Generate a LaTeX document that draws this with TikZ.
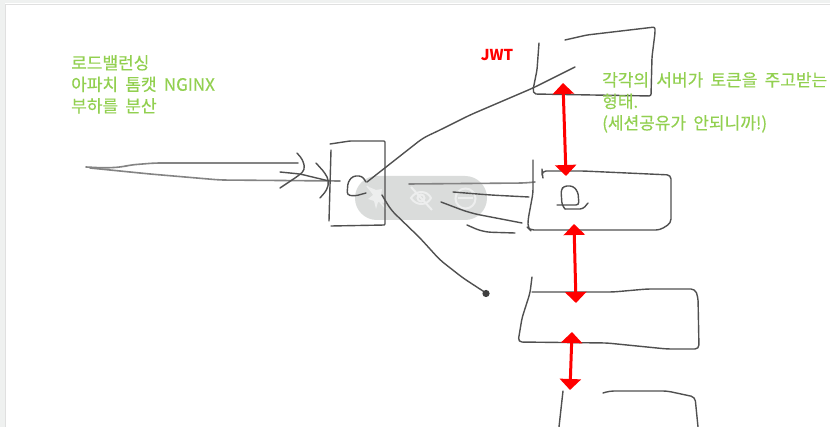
\documentclass[tikz,border=0pt]{standalone}
\usepackage{fontspec}
\newfontfamily\kr[WordSpace=1.9,FakeBold=0.4]{Noto Sans CJK KR}
\newfontfamily\krb{Noto Sans CJK KR}
\usetikzlibrary{arrows.meta}
\definecolor{note}{HTML}{92D050}
\definecolor{ink}{HTML}{505050}
\definecolor{pill}{HTML}{DADCDB}
\definecolor{band}{HTML}{EFF1F0}
\definecolor{icon}{HTML}{EDEEEE}
\tikzset{
  pen/.style={draw=ink,line width=1.4pt,line cap=round,line join=round,rounded corners=4pt},
  softpen/.style={draw=ink!70,line width=1.6pt,line cap=round,line join=round,rounded corners=6pt},
  redarrow/.style={draw=red,line width=3pt,{Triangle[width=21pt,length=11pt]}-{Triangle[width=21pt,length=11pt]}},
  notetext/.style={text=note,font=\kr\fontsize{17}{21.5}\selectfont,align=left,anchor=north west,inner sep=0pt},
  iconline/.style={draw=icon,line width=2pt},
}
\begin{document}
\begin{tikzpicture}[x=1pt,y=-1pt]
\useasboundingbox (0,0) rectangle (830,427);
\fill[white] (0,0) rectangle (830,427);
% window frame
\fill[band] (0,0) rectangle (830,3.5);
\fill[band] (0,0) rectangle (5,427);
\draw[black!12,line width=.6pt] (5.5,427) -- (5.5,4) -- (830,4);
% overlay toolbar
\fill[pill,rounded corners=21.9pt] (355,176) rectangle (487,220);
% toolbar icons
\fill[icon] (369,187) -- (376,190) -- (382,189) -- (381,195) -- (385,203) -- (378,202) -- (376,209) -- (374,201) -- (368,199) -- (373,195) -- cycle;
\draw[icon,line width=1.5pt] (367,186) -- (386,209);
\draw[iconline] (411,198) .. controls (416,190) and (427,190) .. (431,198) .. controls (427,206) and (416,206) .. (411,198) -- cycle;
\draw[iconline] (421,198) circle (3.5pt);
\draw[iconline] (411,187) -- (432,210);
\draw[iconline] (465.5,198.5) circle (10pt);
\draw[iconline] (458,198.5) -- (473,198.5);
% incoming strokes
\draw[softpen] (86,167) -- (105,168) -- (122,167) -- (130,165) -- (155,163) -- (298,163);
\draw[softpen] (90,168) -- (150,174) -- (220,180) -- (340,181);
\draw[pen] (297,153) -- (303,160) -- (305,170) -- (298,176) -- (280,188);
\draw[pen] (280,172) -- (300,174) -- (329,181);
\draw[pen] (316,163) -- (325,173) -- (329,181) -- (327,190) -- (320,198);
% load balancer box
\draw[pen,rounded corners=1pt] (330,144) -- (350,141) -- (385,141) -- (385,225) -- (331,226);
\draw[pen] (331,150) -- (329,221);
\draw[pen,rounded corners=3pt] (366,182) -- (362,176) -- (353,176) -- (348,182) -- (347,195) -- (355,196) -- (366,193);
% outgoing strokes
\draw[pen,rounded corners=6pt] (367,182) -- (423,138) -- (440,130) -- (470,115) -- (533,88) -- (575,67);
\draw[pen,rounded corners=6pt] (382,195) -- (391,210) -- (420,238) -- (440,260) -- (463,278) -- (486,293);
\fill[ink!80!black] (486,293.5) circle (3.6pt);
\draw[softpen] (409,184) -- (525,183) -- (535,182);
\draw[pen,rounded corners=10pt] (453,192) -- (490,195) -- (529,197);
\draw[pen,rounded corners=10pt] (441,202) -- (470,213) -- (522,223);
\draw[pen,rounded corners=8pt] (467,225) -- (483,232) -- (515,233);
% JWT server
\draw[pen,rounded corners=2pt] (539,43) -- (537,70) -- (533,90) -- (534,94) -- (651,96) -- (652,57) -- (655,33) -- (655,27) -- (587,35) -- (565,40);
% middle server
\draw[pen] (533,160) -- (533,193) -- (528,220) -- (528,228) -- (530,230) -- (660,230) -- (671,223) -- (671,175) -- (583,171) -- (542,171) -- (542,173) -- (543,178);
\draw[pen,rounded corners=3pt] (565,209) -- (562,205) -- (561,190) -- (564,186) -- (573,186) -- (578,192) -- (579,205) -- (557,205);
\draw[pen,rounded corners=3pt] (565,209) -- (583,209) -- (588,203);
% third server
\draw[pen] (532,277) -- (530,293) -- (522,318) -- (518,342) -- (607,343) -- (667,349) -- (699,349) -- (698,297) -- (695,289) -- (647,289) -- (613,292) -- (532,292);
% fourth server
\draw[pen] (563,391) -- (559,427);
\draw[pen] (603,393) -- (610,391) -- (667,391) -- (695,397) -- (698,427);
% red arrows
\draw[redarrow] (563,83) -- (566,176);
\draw[redarrow] (574,224) -- (576,303);
\draw[redarrow] (572,332) -- (570,390);
% labels
\node[notetext] (lb) at (71,55) {로드밸런싱\\아파치 톰캣 NGINX\\부하를 분산};
\node[notetext] (tok) at (602,72) {각각의 서버가 토큰을 주고받는\\형태.\\(세션공유가 안되니까!)};
\node[text=red,font=\krb\bfseries\fontsize{15}{16}\selectfont,inner sep=0pt] (jwt) at (497,55) {JWT};
\end{tikzpicture}
\end{document}
